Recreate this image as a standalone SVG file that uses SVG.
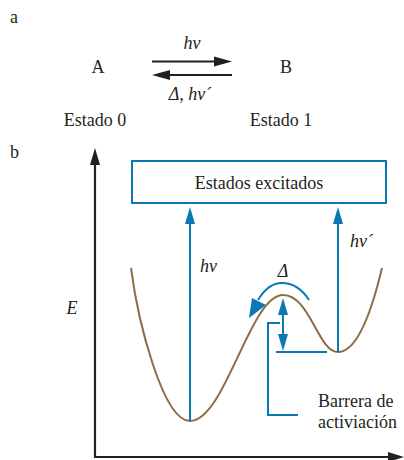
<svg xmlns="http://www.w3.org/2000/svg" width="404" height="460" viewBox="0 0 404 460">
<style>
.t{font-family:"Times New Roman","Liberation Serif",serif;font-size:18px;fill:#231f20}
.i{font-style:italic}
.m{text-anchor:middle}
.blue{stroke:#0a78b4;fill:none;stroke-width:2}
.bl{fill:#0a78b4}
.blk{stroke:#231f20;fill:none;stroke-width:2.2}
</style>
<g id="panel-a">
<text x="10" y="23" class="t">a</text>
<g id="nodeA"><text x="98" y="73" class="t m">A</text></g>
<g id="nodeB"><text x="286" y="73" class="t m">B</text></g>
<text x="95" y="126" class="t m">Estado 0</text>
<text x="281" y="126" class="t m">Estado 1</text>
<g id="connectors-a">
<line class="blk" x1="152" y1="61.5" x2="218" y2="61.5"/>
<polygon points="232,61.5 214,56.5 214,66.5" fill="#231f20"/>
<line class="blk" x1="166" y1="75" x2="232" y2="75"/>
<polygon points="152,75 170,70 170,80" fill="#231f20"/>
</g>
<text x="192" y="49" class="t i m">hν</text>
<text x="190" y="100" class="t i m">Δ, hν´</text>
</g>
<g id="panel-b">
<text x="10" y="158" class="t">b</text>
<g id="axes">
<line class="blk" x1="95" y1="160" x2="95" y2="457"/>
<polygon points="95,148 90,165 100,165" fill="#231f20"/>
<line class="blk" x1="94" y1="457" x2="392" y2="457"/>
<polygon points="404,457 388,452 388,462" fill="#231f20"/>
<text x="72" y="314" class="t i m">E</text>
</g>
<g id="excited">
<rect class="blue" x="132" y="161" width="254" height="42"/>
<text x="259" y="189" class="t m">Estados excitados</text>
</g>
<g id="curve">
<path d="M131,268 C138,322 163,421 190,421 C225,421 250,295 283,295 C310,295 318,352 338,352 C358,352 372,310 382,268" fill="none" stroke="#8c6d46" stroke-width="2"/>
</g>
<g id="connectors-b">
<line class="blue" x1="190" y1="220" x2="190" y2="421"/>
<polygon class="bl" points="190,207 185,224 195,224"/>
<line class="blue" x1="338" y1="220" x2="338" y2="352"/>
<polygon class="bl" points="338,207 333,224 343,224"/>
<line class="blue" x1="283" y1="310" x2="283" y2="338"/>
<polygon class="bl" points="283,298 278,315 288,315"/>
<polygon class="bl" points="283,351 278,334 288,334"/>
<line class="blue" x1="276" y1="352" x2="327" y2="352"/>
<path class="blue" d="M309,300 C300,286 290,283 282,283 C272,283 264,290 258,300" stroke-width="2.5"/>
<polygon class="bl" points="249,318 252,298 266,305"/>
<path class="blue" d="M280,323 L268,323 L268,415 L298,415"/>
</g>
<text x="283" y="277" class="t i m">Δ</text>
<text x="200" y="272" class="t i">hν</text>
<text x="350" y="247" class="t i">hν´</text>
<text x="318" y="407" class="t">Barrera de</text>
<text x="318" y="428" class="t">activiación</text>
</g>
</svg>
